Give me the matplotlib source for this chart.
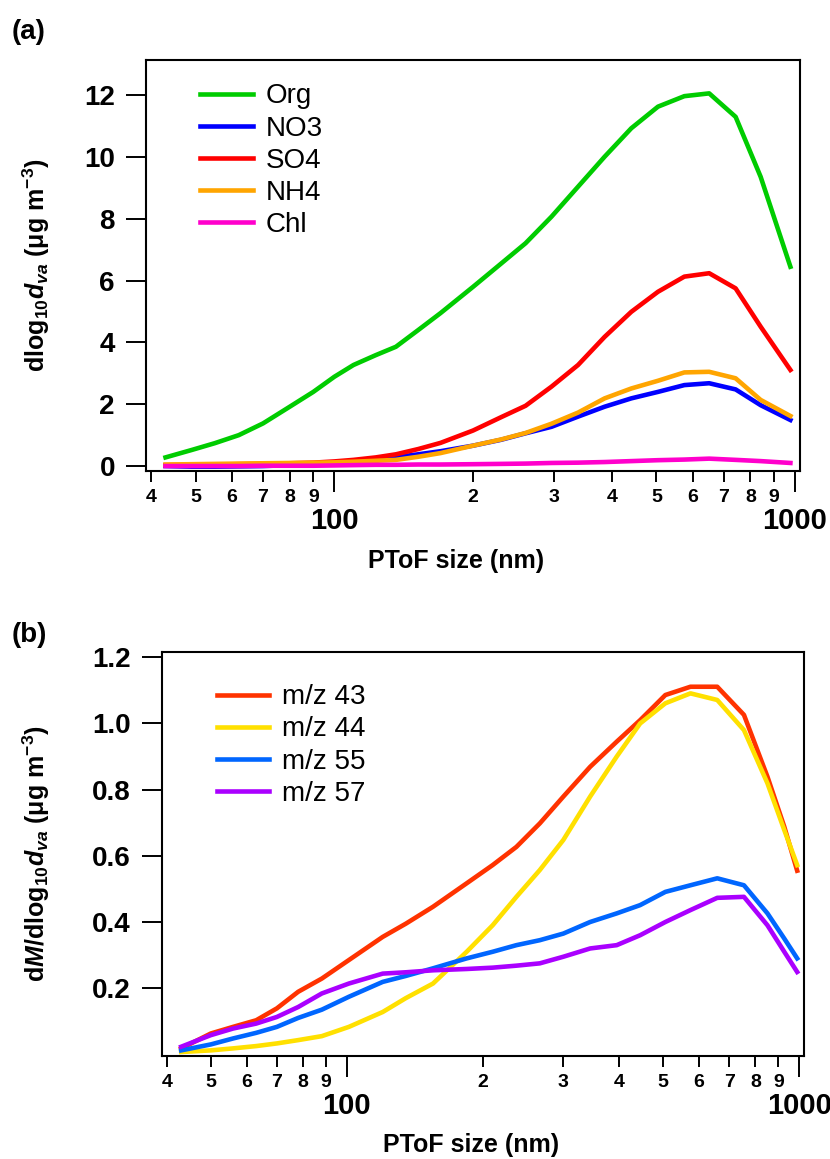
import numpy as np
import matplotlib
matplotlib.use("Agg")
import matplotlib.pyplot as plt
from matplotlib.ticker import FixedLocator, FuncFormatter

# ---- panel (a): species size distributions ----
size_a = [43, 49, 55, 62, 70, 80, 90, 100, 110, 123, 136, 152, 170, 200, 230,
          260, 296, 338, 386, 441, 504, 575, 651, 743, 842, 977]
org = [0.28, 0.52, 0.74, 1.00, 1.38, 1.92, 2.40, 2.89, 3.27, 3.59, 3.86, 4.40, 4.95,
       5.80, 6.55, 7.21, 8.07, 9.04, 10.01, 10.93, 11.63, 11.97, 12.06, 11.30, 9.36, 6.45]
no3 = [0.0, -0.02, -0.02, -0.01, 0.0, 0.03, 0.06, 0.10, 0.15, 0.22, 0.29, 0.38, 0.48,
       0.66, 0.85, 1.06, 1.27, 1.60, 1.92, 2.19, 2.40, 2.62, 2.68, 2.48, 1.97, 1.49]
so4 = [0.03, 0.04, 0.05, 0.06, 0.07, 0.09, 0.11, 0.15, 0.20, 0.28, 0.38, 0.55, 0.75,
       1.15, 1.58, 1.95, 2.57, 3.27, 4.18, 4.99, 5.64, 6.13, 6.24, 5.75, 4.51, 3.11]
nh4 = [0.05, 0.06, 0.07, 0.08, 0.09, 0.10, 0.11, 0.12, 0.14, 0.17, 0.20, 0.30, 0.42,
       0.66, 0.86, 1.07, 1.37, 1.73, 2.19, 2.51, 2.76, 3.03, 3.05, 2.84, 2.14, 1.62]
chl = [0.0, 0.0, 0.0, 0.0, 0.01, 0.01, 0.01, 0.02, 0.03, 0.04, 0.04, 0.05, 0.05,
       0.06, 0.07, 0.08, 0.10, 0.11, 0.13, 0.16, 0.19, 0.21, 0.24, 0.20, 0.16, 0.10]

# ---- panel (b): m/z size distributions ----
size_b = [43, 50, 56, 63, 70, 78, 88, 101, 120, 135, 155, 184, 210, 237, 267,
          301, 345, 395, 445, 506, 575, 659, 755, 851, 927, 990]
mz43 = [0.018, 0.063, 0.083, 0.103, 0.139, 0.189, 0.229, 0.285, 0.355, 0.395, 0.446,
        0.517, 0.572, 0.627, 0.698, 0.779, 0.869, 0.945, 1.010, 1.086, 1.111, 1.111,
        1.026, 0.839, 0.688, 0.555]
mz44 = [0.007, 0.012, 0.018, 0.025, 0.033, 0.043, 0.055, 0.083, 0.128, 0.17, 0.214,
        0.31, 0.39, 0.476, 0.557, 0.648, 0.779, 0.900, 1.00, 1.061, 1.091, 1.071,
        0.980, 0.819, 0.678, 0.572]
mz55 = [0.012, 0.03, 0.048, 0.065, 0.083, 0.11, 0.135, 0.174, 0.219, 0.237, 0.26,
        0.29, 0.31, 0.33, 0.345, 0.365, 0.40, 0.426, 0.451, 0.491, 0.511, 0.532,
        0.511, 0.426, 0.35, 0.29]
mz57 = [0.023, 0.058, 0.078, 0.093, 0.113, 0.143, 0.184, 0.214, 0.244, 0.248, 0.254,
        0.258, 0.262, 0.268, 0.275, 0.295, 0.320, 0.330, 0.36, 0.40, 0.436, 0.473,
        0.476, 0.39, 0.31, 0.249]

plt.rcParams['font.family'] = ['Liberation Sans', 'DejaVu Sans']
plt.rcParams['font.weight'] = 'bold'
plt.rcParams['mathtext.fontset'] = 'custom'
plt.rcParams['mathtext.rm'] = 'Liberation Sans:bold'
plt.rcParams['mathtext.bf'] = 'Liberation Sans:bold'
plt.rcParams['mathtext.it'] = 'Liberation Sans:italic:bold'
plt.rcParams['mathtext.default'] = 'rm'

fig = plt.figure(figsize=(8.3, 11.59), dpi=100)
W, H = 830, 1159


def add_axes_px(left, top, right, bottom):
    return fig.add_axes([left / W, 1 - bottom / H, (right - left) / W, (bottom - top) / H])


def style_axis(ax):
    ax.set_xscale('log')
    ax.set_xlim(39, 1025)
    ax.xaxis.set_major_locator(FixedLocator([100, 1000]))
    ax.xaxis.set_major_formatter(FuncFormatter(lambda v, p: '%d' % round(v)))
    minors = [m * 10 for m in range(4, 10)] + [m * 100 for m in range(2, 10)]
    ax.xaxis.set_minor_locator(FixedLocator(minors))
    ax.xaxis.set_minor_formatter(
        FuncFormatter(lambda v, p: '%d' % round(v / 10 ** np.floor(np.log10(v) + 1e-9))))
    ax.tick_params(axis='x', which='minor', length=7.9, width=1.4, pad=5, labelsize=14)
    ax.tick_params(axis='x', which='major', length=15, width=1.4, pad=11, labelsize=21)
    ax.tick_params(axis='y', which='major', length=14.4, width=1.4, pad=8, labelsize=20)
    ax.tick_params(axis='y', which='minor', left=False)
    for s in ax.spines.values():
        s.set_linewidth(1.5)


lw = 3.3

# (a)
ax1 = add_axes_px(146, 60, 800, 471)
ax1.plot(size_a, org, color='#00CC00', lw=lw, label='Org')
ax1.plot(size_a, no3, color='#0000FF', lw=lw, label='NO3')
ax1.plot(size_a, so4, color='#FF0000', lw=lw, label='SO4')
ax1.plot(size_a, nh4, color='#FFA500', lw=lw, label='NH4')
ax1.plot(size_a, chl, color='#FF00CC', lw=lw, label='Chl')
style_axis(ax1)
ax1.set_ylim(-0.16, 13.14)
ax1.set_yticks([0, 2, 4, 6, 8, 10, 12])
ax1.set_xlabel('PToF size (nm)', fontsize=18, fontweight='bold')
ax1.xaxis.set_label_coords((456 - 146) / 654, -0.19)
ax1.set_ylabel(r'dlog$_{10}$$\mathit{d_{va}}$ (μg m$^{-3}$)', fontsize=18, fontweight='bold')
ax1.yaxis.set_label_coords(-0.144, 0.5)
ax1.legend(loc='upper left', bbox_to_anchor=(0.083, 0.943), frameon=False,
           prop={'weight': 'normal', 'size': 20}, handlelength=1.9, handletextpad=0.47,
           labelspacing=0.22, borderaxespad=0, borderpad=0)
fig.text(12 / W, 1 - 32 / H, '(a)', fontsize=20, fontweight='bold', va='center', ha='left')

# (b)
ax2 = add_axes_px(162, 652, 804, 1056)
ax2.plot(size_b, mz43, color='#FF3300', lw=lw, label='m/z 43')
ax2.plot(size_b, mz44, color='#FFE000', lw=lw, label='m/z 44')
ax2.plot(size_b, mz55, color='#0066FF', lw=lw, label='m/z 55')
ax2.plot(size_b, mz57, color='#AA00FF', lw=lw, label='m/z 57')
style_axis(ax2)
ax2.set_ylim(-0.005, 1.216)
ax2.set_yticks([0.2, 0.4, 0.6, 0.8, 1.0, 1.2])
ax2.yaxis.set_major_formatter(FuncFormatter(lambda v, p: '%.1f' % v))
ax2.set_xlabel('PToF size (nm)', fontsize=18, fontweight='bold')
ax2.xaxis.set_label_coords((471 - 162) / 642, -0.19)
ax2.set_ylabel(r'd$\mathit{M}$/dlog$_{10}$$\mathit{d_{va}}$ (μg m$^{-3}$)', fontsize=18,
               fontweight='bold')
ax2.yaxis.set_label_coords(-0.171, 0.5)
ax2.legend(loc='upper left', bbox_to_anchor=(0.085, 0.92), frameon=False,
           prop={'weight': 'normal', 'size': 20}, handlelength=1.9, handletextpad=0.47,
           labelspacing=0.22, borderaxespad=0, borderpad=0)
fig.text(12 / W, 1 - 635 / H, '(b)', fontsize=20, fontweight='bold', va='center', ha='left')

fig.savefig('out.png', dpi=100)
